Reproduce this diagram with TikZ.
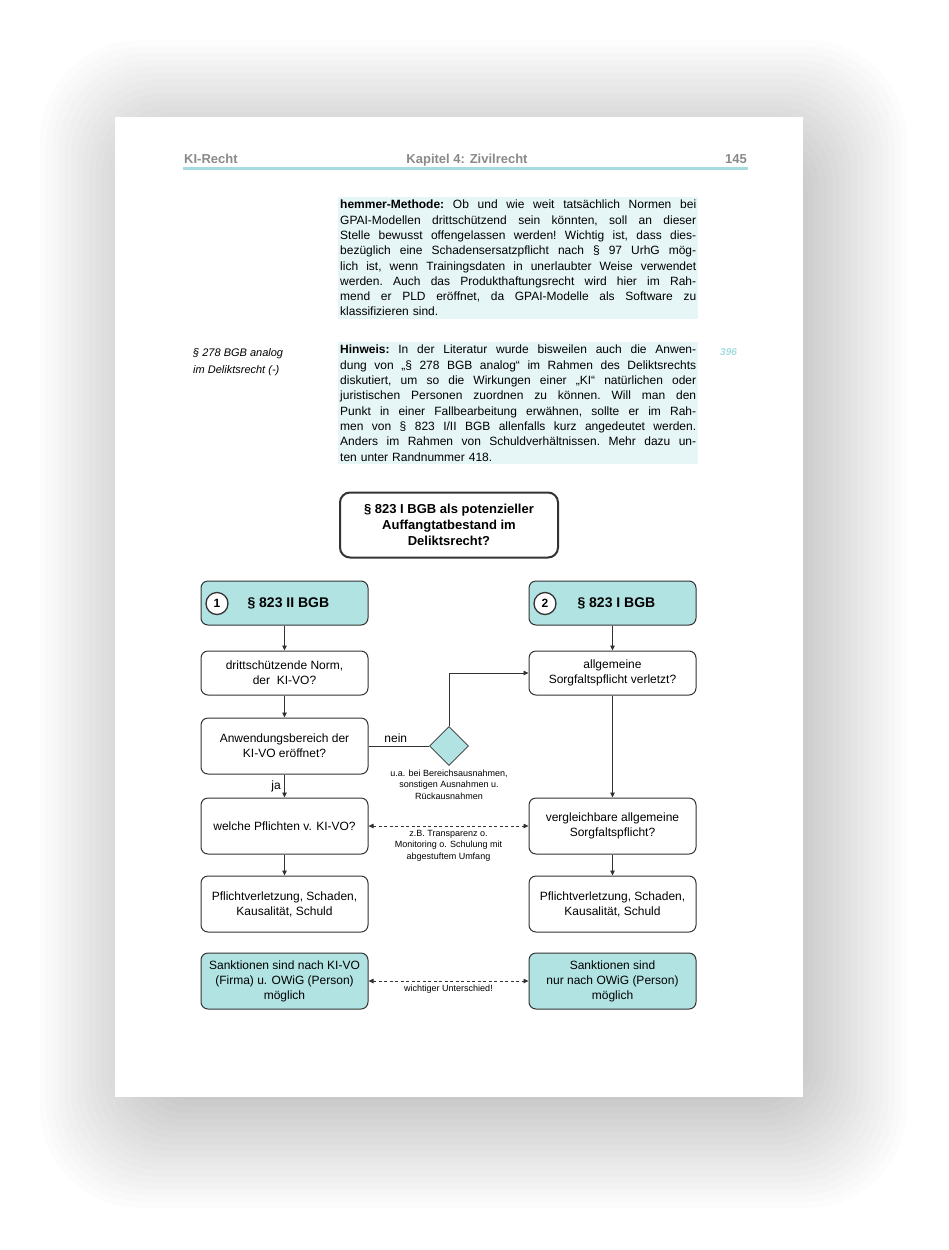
\documentclass[tikz,border=0pt]{standalone}
\usepackage{fontspec}
\setmainfont{Liberation Sans}
\usetikzlibrary{arrows.meta,positioning,shapes.geometric}

\definecolor{tealfill}{HTML}{B2E3E3}
\definecolor{tealpale}{HTML}{E6F5F5}
\definecolor{tealrule}{HTML}{A6DCDF}
\definecolor{headgray}{HTML}{8A8A8A}
\definecolor{boxline}{HTML}{333333}

% one justified line of a text block
\newcommand{\jline}[1]{\makebox[356pt][s]{\frenchspacing\spaceskip=0pt\xspaceskip=0pt #1}\\}

\begin{document}
\begin{tikzpicture}[
  x=1pt, y=-1pt,
  font=\fontsize{12}{15}\selectfont,
  box/.style={draw=boxline, line width=1pt, rounded corners=7pt, minimum width=167pt, align=center, inner sep=2pt, fill=white},
  qbox/.style={box, minimum height=44pt},
  wbox/.style={box, minimum height=56pt},
  headbox/.style={box, fill=tealfill, minimum height=44pt},
  sanbox/.style={box, fill=tealfill, minimum height=56pt},
  numcirc/.style={circle, draw=boxline, line width=1.3pt, fill=white, minimum size=22pt, inner sep=0pt, font=\fontsize{12}{12}\selectfont\bfseries},
  headlabel/.style={anchor=west, font=\fontsize{14}{15}\selectfont\bfseries},
  note/.style={align=center, inner sep=1pt, font=\fontsize{9}{11.3}\selectfont},
  running/.style={text=headgray, inner sep=0pt, font=\fontsize{13}{14}\selectfont\bfseries},
  textblock/.style={fill=tealpale, text width=356pt, inner xsep=2pt, inner ysep=3pt, anchor=north west, align=left, font=\fontsize{12}{15.3}\selectfont},
  arrow/.style={-{Triangle[length=5pt, width=4.5pt]}, line width=0.8pt, draw=boxline},
  dasharrow/.style={{Triangle[length=5pt, width=4.5pt]}-{Triangle[length=5pt, width=4.5pt]}, line width=0.8pt, draw=boxline, dash pattern=on 3pt off 2.5pt},
]

% ===== Page and its drop shadow =====
\useasboundingbox (0,0) rectangle (948,1250);
\fill[white] (0,0) rectangle (948,1250);
\foreach \i [evaluate=\i as \r using 100-3*\i] in {0,...,29}
  \fill[black, opacity=0.012, rounded corners=\r pt]
    (40+6.17*\i, 40+6.6*\i) rectangle (907-6.2*\i, 1208-6.34*\i);
\fill[white] (115,117) rectangle (803,1097);

% ===== Running head =====
\node[running, anchor=base west] (runleft) at (184,163) {KI-Recht};
\node[running, anchor=base] (runmid) at (467,163) {Kapitel 4: Zivilrecht};
\node[running, anchor=base east] (runright) at (747,163) {145};
\draw[tealrule, line width=2.5pt] (183,168.5) -- (748,168.5);

% ===== Text blocks =====
\node[textblock] (hemmer) at (338,197) {%
\jline{\textbf{hemmer-Methode:} Ob und wie weit tatsächlich Normen bei}
\jline{GPAI-Modellen drittschützend sein könnten, soll an dieser}
\jline{Stelle bewusst offengelassen werden! Wichtig ist, dass dies-}
\jline{bezüglich eine Schadensersatzpflicht nach § 97 UrhG mög-}
\jline{lich ist, wenn Trainingsdaten in unerlaubter Weise verwendet}
\jline{werden. Auch das Produkthaftungsrecht wird hier im Rah-}
\jline{mend er PLD eröffnet, da GPAI-Modelle als Software zu}
klassifizieren sind.};

\node[textblock] (hinweis) at (338,342) {%
\jline{\textbf{Hinweis:} In der Literatur wurde bisweilen auch die Anwen-}
\jline{dung von „§ 278 BGB analog“ im Rahmen des Deliktsrechts}
\jline{diskutiert, um so die Wirkungen einer „KI“ natürlichen oder}
\jline{juristischen Personen zuordnen zu können. Will man den}
\jline{Punkt in einer Fallbearbeitung erwähnen, sollte er im Rah-}
\jline{men von § 823 I/II BGB allenfalls kurz angedeutet werden.}
\jline{Anders im Rahmen von Schuldverhältnissen. Mehr dazu un-}
ten unter Randnummer 418.};

\node[anchor=north west, align=left, inner sep=0pt, font=\fontsize{11}{17}\selectfont\itshape] (margin) at (193,348) {§ 278 BGB analog\\im Deliktsrecht (-)};
\node[anchor=base west, inner sep=0pt, text=tealrule, font=\fontsize{10}{12}\selectfont\bfseries\itshape] (rn) at (720,355) {396};

% ===== Flow chart =====
\node[draw=boxline, line width=2pt, rounded corners=10pt, minimum width=218pt, minimum height=65pt, align=center,
      font=\fontsize{13}{16}\selectfont\bfseries] (title) at (449,525) {§ 823 I BGB als potenzieller\\Auffangtatbestand im\\Deliktsrecht?};

% left column: § 823 II BGB
\node[headbox] (par2) at (284.5,603) {};
\node[numcirc] (num1) at (217,603.5) {1};
\node[headlabel] (lab2) at (244,603) {§ 823 II BGB};
\node[qbox, below=25pt of par2] (dritt) {drittschützende Norm,\\der~~KI-VO?};
\node[wbox, below=22pt of dritt] (anwend) {Anwendungsbereich der\\KI-VO eröffnet?};
\node[wbox, below=23pt of anwend] (pflicht) {welche Pflichten v. KI-VO?};
\node[wbox, below=21pt of pflicht] (verl1) {Pflichtverletzung, Schaden,\\Kausalität, Schuld};
\node[sanbox, below=20pt of verl1] (sank1) {Sanktionen sind nach KI-VO\\(Firma) u. OWiG (Person)\\möglich};

% right column: § 823 I BGB
\node[headbox] (par1) at (612.5,603) {};
\node[numcirc] (num2) at (545,603.5) {2};
\node[headlabel] (lab1) at (574,603) {§ 823 I BGB};
\node[qbox, below=25pt of par1] (allg) {allgemeine\\Sorgfaltspflicht verletzt?};
\node[wbox] (vergl) at (allg |- pflicht) {vergleichbare allgemeine\\Sorgfaltspflicht?};
\node[wbox] (verl2) at (allg |- verl1) {Pflichtverletzung, Schaden,\\Kausalität, Schuld};
\node[sanbox] (sank2) at (allg |- sank1) {Sanktionen sind\\nur nach OWiG (Person)\\möglich};

% exit via the gate
\node[diamond, draw=boxline, line width=0.8pt, fill=tealfill, minimum width=39pt, minimum height=39pt, inner sep=0pt] (gate) at (anwend -| title) {};
\node[note, below=3pt of gate] (ausn) {u.a. bei Bereichsausnahmen,\\sonstigen Ausnahmen u.\\Rückausnahmen};

% connectors
\draw[arrow] (par2) -- (dritt);
\draw[arrow] (dritt) -- (anwend);
\draw[arrow] (anwend) -- node[left] {ja} (pflicht);
\draw[arrow] (pflicht) -- (verl1);
\draw[arrow] (par1) -- (allg);
\draw[arrow] (allg) -- (vergl);
\draw[arrow] (vergl) -- (verl2);
\draw[line width=0.8pt, draw=boxline] (anwend) -- node[above, pos=0.45] {nein} (gate);
\draw[arrow] (gate.north) |- (allg.west);
\draw[dasharrow] (pflicht) -- node[note, below=3pt] (transp) {z.B. Transparenz o.\\Monitoring o. Schulung mit\\abgestuftem Umfang} (vergl);
\draw[dasharrow] (sank1) -- node[note, below=3pt] (unters) {wichtiger Unterschied!} (sank2);

\end{tikzpicture}
\end{document}
